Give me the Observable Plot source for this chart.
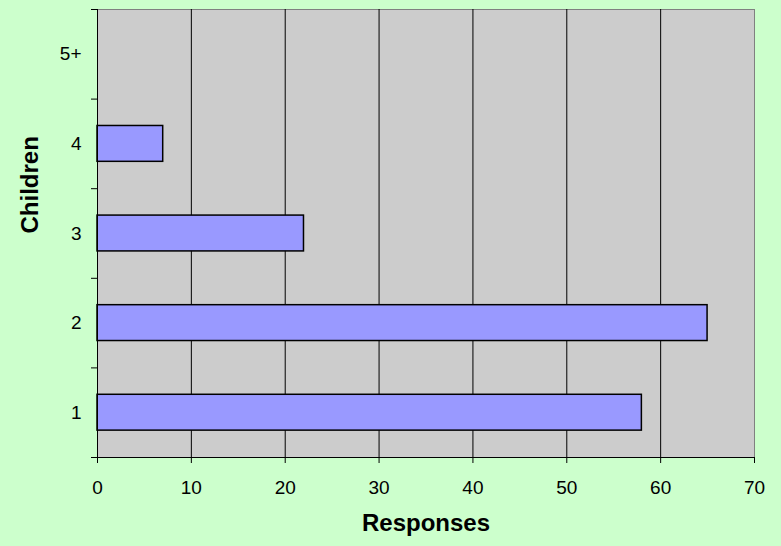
<!DOCTYPE html>
<html>
<head>
<meta charset="utf-8">
<script src="https://cdn.jsdelivr.net/npm/d3@7"></script>
<script src="https://cdn.jsdelivr.net/npm/@observablehq/plot@0.6"></script>
<style>
  html, body { margin: 0; padding: 0; background: #CCFFCC; }
</style>
</head>
<body>
<div id="chart"></div>
<script>
const categories = ["1", "2", "3", "4", "5+"];
const responses = [58, 65, 22, 7, 0];
const xTicks = [0, 10, 20, 30, 40, 50, 60, 70];
const xLabel = "Responses";
const yLabel = "Children";

const data = categories.map((c, i) => ({category: c, pos: i, value: responses[i]}));

const chart = Plot.plot({
  width: 781,
  height: 546,
  marginLeft: 97,
  marginRight: 27,
  marginTop: 9,
  marginBottom: 89,
  style: {background: "#CCFFCC", fontFamily: "'Liberation Sans', Arial, sans-serif", fontSize: "19px", color: "#000"},
  x: {domain: [0, 70]},
  y: {domain: [0, categories.length]},
  marks: [
    Plot.frame({fill: "#CCCCCC", stroke: "#808080"}),
    Plot.gridX(xTicks.slice(1, -1), {stroke: "#000", strokeOpacity: 1}),
    Plot.rectX(data.filter(d => d.value > 0), {
      x: "value",
      y1: d => d.pos + 0.3,
      y2: d => d.pos + 0.7,
      fill: "#9999FF",
      stroke: "#000",
      strokeWidth: 1.5
    }),
    Plot.ruleX([0], {stroke: "#000"}),
    Plot.ruleY([0], {stroke: "#000"}),
    Plot.axisX({ticks: xTicks, tickSize: 6, tickPadding: 17, label: null, stroke: "#000", fontSize: 19}),
    Plot.axisY({ticks: d3.range(0, categories.length + 1), tickSize: 6, tickFormat: () => "", label: null}),
    Plot.axisY({ticks: categories.map((c, i) => i + 0.5), tickSize: 0, tickPadding: 16,
      tickFormat: v => categories[Math.floor(v)], label: null, fontSize: 19}),
    Plot.text([xLabel], {text: d => d, frameAnchor: "bottom", dy: 73, fontWeight: "bold", fontSize: 24}),
    Plot.text([yLabel], {text: d => d, frameAnchor: "left", dx: -67, rotate: -90, fontWeight: "bold", fontSize: 24})
  ]
});
document.getElementById("chart").appendChild(chart);
</script>
</body>
</html>
